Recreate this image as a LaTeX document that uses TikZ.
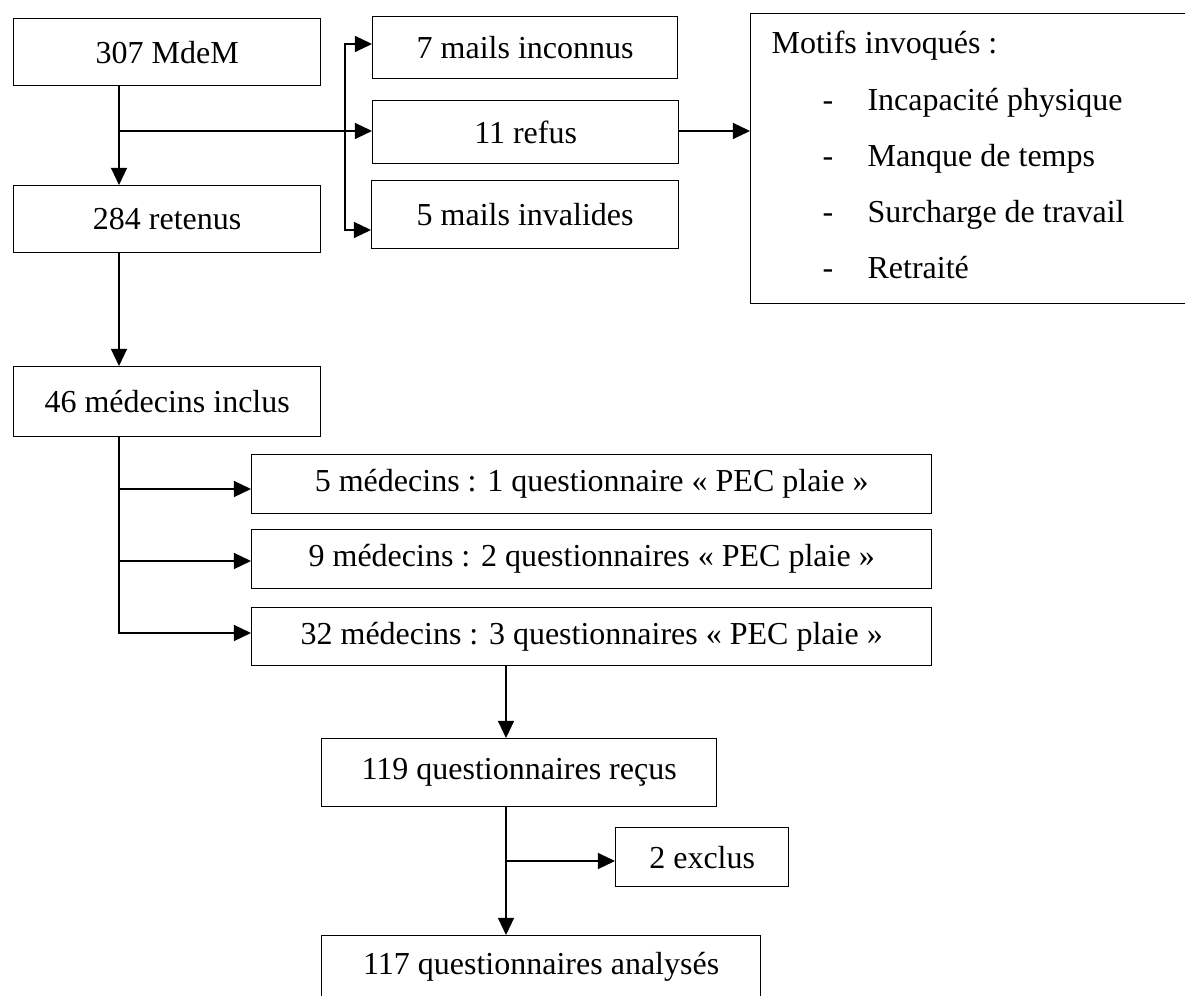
\documentclass[tikz,border=0pt]{standalone}
\usepackage{fontspec}
\setmainfont{Liberation Serif}
\usepackage{xcolor}
\usetikzlibrary{calc}
\usetikzlibrary{arrows.meta}

\tikzset{
  boite/.style n args={2}{draw, line width=0.5pt, inner sep=0pt, anchor=north west,
    minimum width=#1*0.375pt, minimum height=#2*0.375pt},
  fleche/.style={line width=0.5pt, -{Triangle[length=6.4pt,width=6pt]}},
  fleches/.style={line width=0.5pt, {Triangle[length=6.4pt,width=6pt]}-{Triangle[length=6.4pt,width=6pt]}},
  motif/.style={anchor=base west, inner sep=0pt}
}

\begin{document}
\begin{tikzpicture}[x=0.375pt,y=-0.375pt]
                    \useasboundingbox (0,0) rectangle (1185,996);
                    \clip (0,0) rectangle (1185,996);
                    {\fontsize{12}{14}\selectfont

                    % Drawing the boxes

                    \node [boite={307}{67}] (mdem) at (13,18) {307 MdeM};%
                    \node [boite={307}{67}] (retenus) at (13,185) {284 retenus};%
                    \node [boite={305}{62}] (inconnus) at (372,16) {7 mails inconnus};%
                    \node [boite={306}{63}] (refus) at (372,100) {11 refus};%
                    \node [boite={307}{68}] (invalides) at (371,180) {5 mails invalides};%
                    \node [boite={500}{290}] (motifs) at (750,13) {};%
                    \node [boite={307}{70}] (inclus) at (13,366) {46 médecins inclus};%
                    \node [boite={680}{59}] (q1) at (251,454) {5 médecins : 1 questionnaire « PEC plaie »};%
                    \node [boite={680}{59}] (q2) at (251,529) {9 médecins : 2 questionnaires « PEC plaie »};%
                    \node [boite={680}{58}] (q3) at (251,607) {32 médecins : 3 questionnaires « PEC plaie »};%
                    \node [boite={395}{68}] (recus) at (321,738) {119 questionnaires reçus};%
                    \node [boite={173}{59}] (exclus) at (615,827) {2 exclus};%
                    \node [boite={439}{63}] (analyses) at (321,935) {117 questionnaires analysés};%

                    % Drawing the list of reasons

                    \node [motif] (titre) at (771,54) {Motifs invoqués :};%
                    \node [motif] (tiret1) at (822,111) {-};%
                    \node [motif] (tiret2) at (822,167) {-};%
                    \node [motif] (tiret3) at (822,223) {-};%
                    \node [motif] (tiret4) at (822,279) {-};%
                    \node [motif] (m1) at (867,111) {Incapacité physique};%
                    \node [motif] (m2) at (867,167) {Manque de temps};%
                    \node [motif] (m3) at (867,223) {Surcharge de travail};%
                    \node [motif] (m4) at (867,279) {Retraité};%

                    % Drawing the connectors

                    \coordinate (tronc1) at (119,131);%
                    \coordinate (haut) at (345,44);%
                    \coordinate (bas) at (345,230);%
                    \draw [fleche] (mdem.south -| tronc1) -- (retenus.north -| tronc1);%
                    \draw [fleche] (tronc1) -- (refus.west |- tronc1);%
                    \draw [fleches] (inconnus.west |- haut) -- (haut) -- (bas) -- (invalides.west |- bas);%
                    \draw [fleche] (refus.east |- tronc1) -- (motifs.west |- tronc1);%
                    \draw [fleche] (retenus.south -| tronc1) -- (inclus.north -| tronc1);%

                    \coordinate (c1) at (119,489);%
                    \coordinate (c2) at (119,561);%
                    \coordinate (c3) at (119,633);%
                    \draw [fleche] (inclus.south -| c3) |- (q3.west |- c3);%
                    \draw [fleche] (c1) -- (q1.west |- c1);%
                    \draw [fleche] (c2) -- (q2.west |- c2);%

                    \coordinate (d1) at (506,861);%
                    \draw [fleche] (q3.south -| d1) -- (recus.north -| d1);%
                    \draw [fleche] (recus.south -| d1) -- (analyses.north -| d1);%
                    \draw [fleche] (d1) -- (exclus.west |- d1);%
                    }

\end{tikzpicture}
\end{document}
